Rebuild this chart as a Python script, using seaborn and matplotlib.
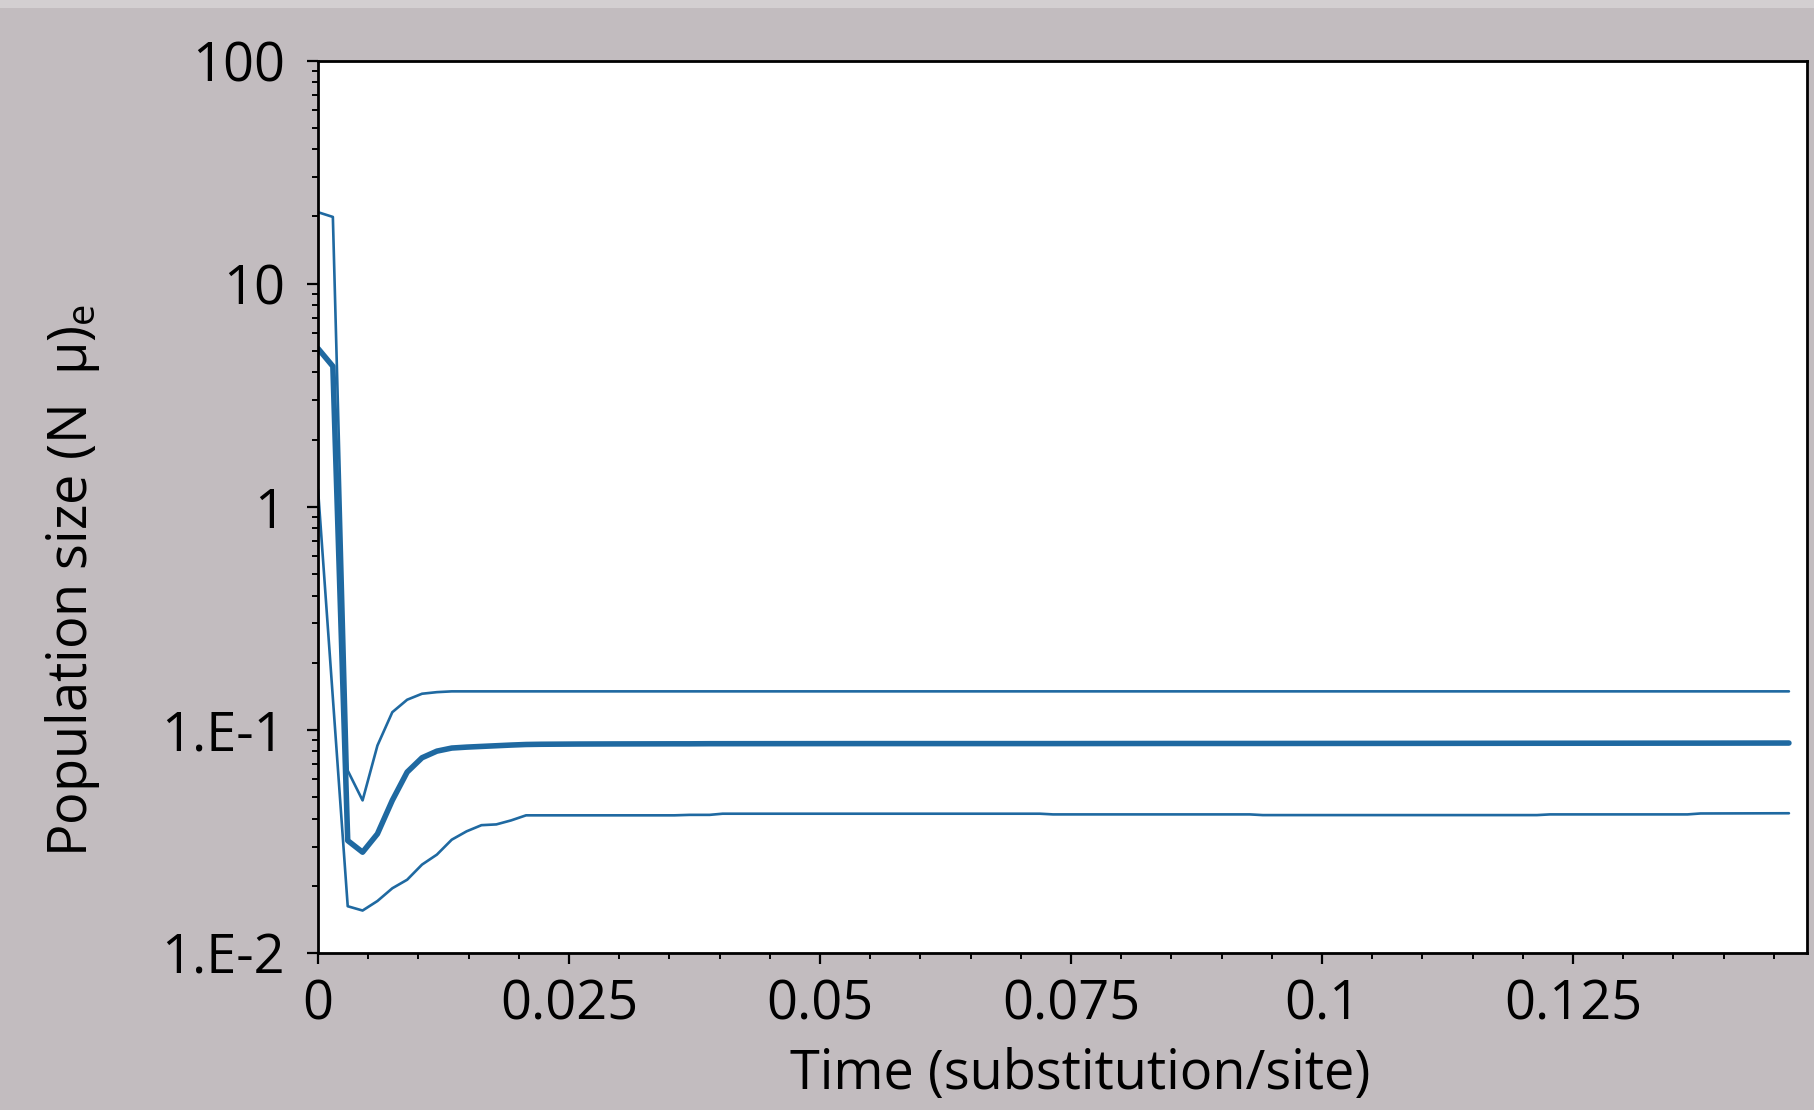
import numpy as np
import pandas as pd
import matplotlib
matplotlib.use("Agg")
import matplotlib.pyplot as plt
from matplotlib.ticker import LogLocator, NullFormatter, MultipleLocator
from matplotlib.patches import Rectangle
import seaborn as sns

# ---- data ----
time = [0.0, 0.00148, 0.00296, 0.00444, 0.00592, 0.0074, 0.00888, 0.01036,
        0.01184, 0.01332, 0.0148, 0.01628, 0.01776, 0.01924, 0.02072, 0.0222,
        0.0259, 0.0296, 0.0355, 0.0370, 0.0390, 0.0403, 0.0550, 0.0719,
        0.0732, 0.0850, 0.0928, 0.0941, 0.1100, 0.1214, 0.1227, 0.1364,
        0.1377, 0.1465]

upper = [20.9, 19.9, 0.0657, 0.0483, 0.0851, 0.120, 0.1365, 0.1452,
         0.1476, 0.1488, 0.1488, 0.1488, 0.1488, 0.1488, 0.1488, 0.1488,
         0.1488, 0.1488, 0.1488, 0.1488, 0.1488, 0.1488, 0.1488, 0.1488,
         0.1488, 0.1488, 0.1488, 0.1488, 0.1488, 0.1488, 0.1488, 0.1488,
         0.1488, 0.1488]

median = [5.12, 4.26, 0.0319, 0.0283, 0.0342, 0.0483, 0.0647, 0.0750,
          0.0803, 0.0829, 0.0837, 0.0843, 0.0849, 0.0855, 0.0860, 0.0862,
          0.0864, 0.0865, 0.0866, 0.0866, 0.0867, 0.0867, 0.0868, 0.0868,
          0.0868, 0.0869, 0.0869, 0.0869, 0.0870, 0.0871, 0.0871, 0.0872,
          0.0872, 0.0873]

lower = [1.2, 0.139, 0.0162, 0.0155, 0.0171, 0.0195, 0.0213, 0.0249,
         0.0276, 0.0322, 0.0351, 0.0374, 0.0377, 0.0393, 0.0414, 0.0414,
         0.0414, 0.0414, 0.0414, 0.0416, 0.0416, 0.0421, 0.0421, 0.0421,
         0.0418, 0.0418, 0.0418, 0.0415, 0.0415, 0.0415, 0.0418, 0.0418,
         0.0422, 0.0423]

ytick_vals = [0.01, 0.1, 1, 10, 100]
ytick_labels = ["1.E-2", "1.E-1", "1", "10", "100"]
xtick_vals = [0, 0.025, 0.05, 0.075, 0.1, 0.125]
xtick_labels = ["0", "0.025", "0.05", "0.075", "0.1", "0.125"]

xlabel = "Time (substitution/site)"
ylabel = "Population size (N  \u03bc)$_\\mathregular{e}$"

# ---- style ----
sns.set_style("ticks")
plt.rcParams["font.family"] = ["Open Sans", "DejaVu Sans"]
plt.rcParams["text.color"] = "black"
plt.rcParams["axes.labelcolor"] = "black"

BG = "#c2bcbf"
LINE = "#1f69a1"

fig = plt.figure(figsize=(18.15, 11.1), dpi=100, facecolor=BG)
fig.patches.append(Rectangle((0, 1 - 8 / 1110), 1, 8 / 1110, transform=fig.transFigure,
                             facecolor="#d3cfd1", edgecolor="none", zorder=0))
ax = fig.add_axes([318 / 1815, 1 - 953 / 1110, (1807 - 318) / 1815, (953 - 60.5) / 1110])
ax.set_facecolor("white")

df = pd.DataFrame({"time": time, "upper": upper, "median": median, "lower": lower})
sns.lineplot(data=df, x="time", y="upper", ax=ax, color=LINE, linewidth=1.9)
sns.lineplot(data=df, x="time", y="lower", ax=ax, color=LINE, linewidth=1.9)
sns.lineplot(data=df, x="time", y="median", ax=ax, color=LINE, linewidth=4.0)

ax.set_yscale("log")
ax.set_ylim(0.01, 100)
ax.set_xlim(0, 0.1483)

ax.set_yticks(ytick_vals, labels=ytick_labels)
ax.yaxis.set_minor_locator(LogLocator(base=10, subs=np.arange(2, 10)))
ax.yaxis.set_minor_formatter(NullFormatter())
ax.set_xticks(xtick_vals, labels=xtick_labels)
ax.xaxis.set_minor_locator(MultipleLocator(0.005))

for s in ax.spines.values():
    s.set_linewidth(2.0)
    s.set_color("black")

ax.tick_params(axis="both", which="major", direction="out", length=8, width=1.6,
               colors="black", labelsize=39)
ax.tick_params(axis="both", which="minor", direction="out", length=4.5, width=1.4,
               colors="black")
ax.tick_params(axis="y", which="major", pad=16)
ax.tick_params(axis="x", which="major", pad=10)

ax.set_xlabel(xlabel, fontsize=39, color="black")
ax.set_ylabel(ylabel, fontsize=39, color="black")
ax.xaxis.set_label_coords(0.512, -0.105)
ax.yaxis.set_label_coords(-0.145, 0.417)

fig.savefig("out.png", dpi=100, facecolor=BG)
